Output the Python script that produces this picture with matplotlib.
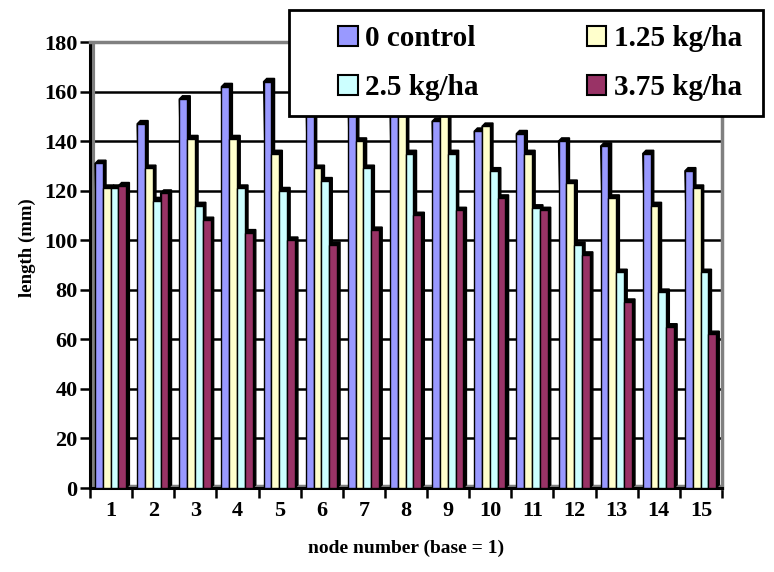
import matplotlib.pyplot as plt
import numpy as np
from matplotlib.patches import Polygon, Rectangle

plt.rcParams['font.family'] = ['Liberation Serif', 'DejaVu Serif']
plt.rcParams['font.weight'] = 'bold'

# node length (mm) per nitrogen rate
nodes = [str(i) for i in range(1, 16)]
control = [131, 147, 157, 162, 164, 164, 163, 154, 148, 144, 143, 140, 138, 135, 128]
kg_125 = [121, 129, 141, 141, 135, 129, 140, 150, 152, 146, 135, 123, 117, 114, 121]
kg_25 = [121, 116, 114, 121, 120, 124, 129, 135, 135, 128, 113, 98, 87, 79, 87]
kg_375 = [122, 119, 108, 103, 100, 98, 104, 110, 112, 117, 112, 94, 75, 65, 62]
series_names = ['0 control', '1.25 kg/ha', '2.5 kg/ha', '3.75 kg/ha']
colors = ['#9999FF', '#FFFFCC', '#CCFFFF', '#993366']

W, H = 774, 572
fig = plt.figure(figsize=(W / 100, H / 100), dpi=100)
ax = fig.add_axes([90 / W, 1 - 488 / H, (722 - 90) / W, (488 - 42) / H])

x = np.arange(1, len(nodes) + 1)
bw = 0.185
start = -0.5 + 0.12
dx, dy = 0.075, 1.3   # fake 3d depth

all_series = [control, kg_125, kg_25, kg_375]
for i, (vals, col) in enumerate(zip(all_series, colors)):
    left = x + start + i * bw
    ax.bar(left, vals, width=bw, align='edge', color=col, edgecolor='black',
           linewidth=1, zorder=3)
    for l, v in zip(left, vals):
        pts = [(l, v), (l + dx, v + dy), (l + bw + dx, v + dy),
               (l + bw + dx, dy), (l + bw, 0)]
        ax.add_patch(Polygon(pts, closed=True, facecolor='black',
                             edgecolor='black', linewidth=1, zorder=2.5))

ax.set_xlim(0.5, 15.5)
ax.set_ylim(0, 180)
ax.set_yticks(range(0, 181, 20))
ax.set_xticks(x)
ax.set_xticklabels(nodes)
ax.set_xticks(np.arange(0.5, 15.6, 1), minor=True)
ax.tick_params(axis='x', which='major', length=0, pad=9, labelsize=16)
ax.tick_params(axis='x', which='minor', length=7, width=1.8, direction='out')
ax.tick_params(axis='y', length=7, width=1.8, direction='out', pad=2, labelsize=16)

for y in range(20, 180, 20):
    ax.axhline(y, color='black', lw=1.8, zorder=1)

# walls and floor
ax.axvline(0.5 + 0.07, color='#808080', lw=3, zorder=1.5)
ax.axhline(1.0, color='#808080', lw=2.5, zorder=1.5)
for s in ['top', 'right']:
    ax.spines[s].set_color('#808080')
    ax.spines[s].set_linewidth(2.5)
for s in ['left', 'bottom']:
    ax.spines[s].set_color('black')
    ax.spines[s].set_linewidth(2.2)

ax.set_xlabel('node number (base = 1)', fontsize=14, fontweight='bold')
ax.xaxis.set_label_coords(0.5, -(548 - 488) / 446, transform=ax.transAxes)
ax.set_ylabel('length (mm)', fontsize=13.5, fontweight='bold')
ax.yaxis.set_label_coords(-(90 - 27) / 632, (488 - 248) / 446, transform=ax.transAxes)
ax.xaxis.label.set_va('center')
ax.yaxis.label.set_va('center')

# legend box
box = Rectangle((289 / W, 1 - 116 / H), (763 - 289) / W, (116 - 10) / H,
                transform=fig.transFigure, facecolor='white', edgecolor='black',
                linewidth=2, zorder=10)
fig.patches.append(box)
handles = [Rectangle((0, 0), 1, 1, facecolor=c, edgecolor='black', linewidth=1.5)
           for c in colors]
order = [0, 2, 1, 3]
leg = fig.legend([handles[k] for k in order], [series_names[k] for k in order],
                 ncol=2, loc='upper left', bbox_to_anchor=(338 / W, 1 - 25 / H),
                 frameon=False, prop={'weight': 'bold', 'size': 21},
                 handlelength=0.68, handleheight=0.68, handletextpad=0.25,
                 columnspacing=3.7, labelspacing=0.75, borderpad=0,
                 borderaxespad=0)
leg.set_zorder(11)

fig.savefig('out.png', dpi=100)
